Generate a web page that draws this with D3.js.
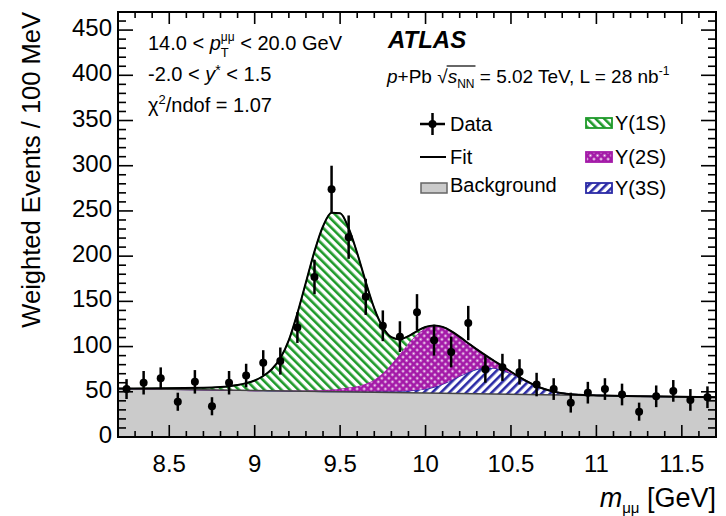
<!DOCTYPE html>
<html>
<head>
<meta charset="utf-8">
<script src="https://cdn.jsdelivr.net/npm/d3@7"></script>
<style>
  html, body { margin: 0; padding: 0; background: #fff; }
  svg text { font-family: "Liberation Sans", Arial, Helvetica, sans-serif; white-space: pre; fill: #000; }
</style>
</head>
<body>
<svg id="chart" width="726" height="516"></svg>
<script>
// Dimuon invariant mass, 0.1 GeV bins
const binMass = [8.25, 8.35, 8.45, 8.55, 8.65, 8.75, 8.85, 8.95, 9.05, 9.15,
                 9.25, 9.35, 9.45, 9.55, 9.65, 9.75, 9.85, 9.95, 10.05, 10.15,
                 10.25, 10.35, 10.45, 10.55, 10.65, 10.75, 10.85, 10.95, 11.05, 11.15,
                 11.25, 11.35, 11.45, 11.55, 11.65];
const binCounts = [53, 60, 65, 39, 61, 34, 60, 68, 82, 84,
                   121, 177, 274, 221, 155, 123, 111, 138, 107, 94,
                   126, 75, 77, 72, 58, 53, 38, 49, 53, 47,
                   28, 45, 51, 41, 44];
const binErrors = [11, 13, 12, 10, 13, 10, 13, 13, 14, 15,
                   17, 19, 26, 24, 20, 17, 17, 20, 17, 17,
                   19, 15, 15, 14, 13, 12, 11, 12, 12, 12,
                   10, 12, 12, 12, 12];

// Fit: linear background plus the three Upsilon components
const bgMass = [8.2, 11.7];
const bgLevel = [53.5, 44];
const fitMass = [8.75, 8.80, 8.85, 8.90, 8.95, 9.00, 9.05, 9.10, 9.15, 9.20,
                 9.25, 9.30, 9.35, 9.40, 9.45, 9.50, 9.55, 9.60, 9.65, 9.70,
                 9.75, 9.80, 9.85, 9.90, 9.95, 10.00, 10.05, 10.10, 10.15, 10.20,
                 10.25, 10.30, 10.35, 10.40, 10.45, 10.50, 10.55, 10.60, 10.65, 10.70,
                 10.75, 10.80, 10.85, 10.90, 10.95, 11.00, 11.05];
const ups1S = [2.6, 3.3, 4.4, 5.9, 8.1, 11.2, 16.0, 23.5, 35.6, 55.8,
               85.3, 119.5, 153.6, 181.0, 195.6, 194.0, 176.3, 147.1, 112.5, 78.9,
               50.8, 29.9, 16.2, 8.0, 3.7, 1.5, 0.6, 0.2, 0.1, 0,
               0, 0, 0, 0, 0, 0, 0, 0, 0, 0,
               0, 0, 0, 0, 0, 0, 0];
const ups2S = [0, 0, 0, 0, 0, 0, 0.3, 0.4, 0.5, 0.6,
               0.8, 1.0, 1.3, 1.8, 2.3, 3.2, 4.4, 6.1, 8.9, 13.2,
               20.3, 30.1, 41.2, 52.4, 61.6, 67.1, 67.6, 63.1, 54.4, 43.5,
               32.2, 22.1, 14.0, 8.2, 4.5, 2.2, 1.0, 0.5, 0.2, 0.1,
               0, 0, 0, 0, 0, 0, 0];
const ups3S = [0, 0, 0, 0, 0, 0, 0, 0, 0, 0,
               0, 0, 0, 0, 0, 0.3, 0.4, 0.45, 0.55, 0.7,
               0.9, 1.2, 1.6, 2.2, 3.1, 4.5, 6.7, 10.1, 14.4, 19.1,
               23.6, 27.0, 28.8, 28.6, 26.4, 22.7, 18.2, 13.5, 9.3, 6.0,
               3.6, 2.0, 1.0, 0.5, 0.2, 0.1, 0];

const yTickValues = [0, 50, 100, 150, 200, 250, 300, 350, 400, 450];
const xTickValues = [8.5, 9, 9.5, 10, 10.5, 11, 11.5];

const C1 = "#1e9a2a", C2 = "#a41aa8", C3 = "#2a2aa6", BG = "#cbcbcb";

const svg = d3.select("#chart");
const L = 118, R = 716, T = 12, B = 437;
const x = d3.scaleLinear().domain([8.2, 11.7]).range([L, R]);
const y = d3.scaleLinear().domain([0, 470]).range([B, T]);
const bg = d3.scaleLinear().domain(bgMass).range(bgLevel);

// hatch patterns
const defs = svg.append("defs");
function stripes(id, color, angle) {
  const p = defs.append("pattern").attr("id", id).attr("patternUnits", "userSpaceOnUse")
    .attr("width", 6).attr("height", 6).attr("patternTransform", `rotate(${angle})`);
  p.append("rect").attr("width", 6).attr("height", 6).attr("fill", "#fff");
  p.append("rect").attr("width", 2.6).attr("height", 6).attr("fill", color);
}
stripes("h1S", C1, -45);
stripes("h3S", C3, 45);
const pm = defs.append("pattern").attr("id", "h2S").attr("patternUnits", "userSpaceOnUse")
  .attr("width", 5).attr("height", 5).attr("patternTransform", "rotate(45)");
pm.append("rect").attr("width", 5).attr("height", 5).attr("fill", C2);
pm.append("rect").attr("x", 1.5).attr("y", 1.5).attr("width", 2).attr("height", 2).attr("fill", "#fff");
defs.append("clipPath").attr("id", "plotClip").append("rect")
  .attr("x", L).attr("y", T).attr("width", R - L).attr("height", B - T);

// sampled fit, padded with the range edges
const fit = [{m: 8.2, a: 0, b: 0, c: 0}]
  .concat(fitMass.map((m, i) => ({m, a: ups1S[i], b: ups2S[i], c: ups3S[i]})))
  .concat([{m: 11.7, a: 0, b: 0, c: 0}]);

const plot = svg.append("g").attr("clip-path", "url(#plotClip)");
const curve = d3.curveMonotoneX;

// background
plot.append("path")
  .attr("d", d3.area().x(d => x(d)).y0(y(0)).y1(d => y(bg(d)))(bgMass))
  .attr("fill", BG);

function band(lo, hi, fill, stroke) {
  plot.append("path")
    .attr("d", d3.area().curve(curve).x(d => x(d.m)).y0(d => y(lo(d))).y1(d => y(hi(d)))(fit))
    .attr("fill", fill);
  plot.append("path")
    .attr("d", d3.line().curve(curve).x(d => x(d.m)).y(d => y(hi(d)))(fit))
    .attr("fill", "none").attr("stroke", stroke).attr("stroke-width", 1.3);
}
band(d => bg(d.m), d => bg(d.m) + d.c, "url(#h3S)", C3);
band(d => bg(d.m) + d.c, d => bg(d.m) + d.c + d.b, "url(#h2S)", C2);
band(d => bg(d.m) + d.c + d.b, d => bg(d.m) + d.c + d.b + d.a, "url(#h1S)", C1);

// background line and total fit
plot.append("path")
  .attr("d", d3.line().x(d => x(d)).y(d => y(bg(d)))(bgMass))
  .attr("fill", "none").attr("stroke", "#444").attr("stroke-width", 1.5);
plot.append("path")
  .attr("d", d3.line().curve(curve).x(d => x(d.m)).y(d => y(bg(d.m) + d.a + d.b + d.c))(fit))
  .attr("fill", "none").attr("stroke", "#000").attr("stroke-width", 2);

// data points
const pts = plot.append("g");
binMass.forEach((m, i) => {
  pts.append("line").attr("x1", x(m)).attr("x2", x(m))
    .attr("y1", y(binCounts[i] - binErrors[i])).attr("y2", y(binCounts[i] + binErrors[i]))
    .attr("stroke", "#000").attr("stroke-width", 2.5);
  pts.append("circle").attr("cx", x(m)).attr("cy", y(binCounts[i])).attr("r", 4).attr("fill", "#000");
});

// frame with inward ticks on all four sides
const ax = svg.append("g").attr("stroke", "#000");
const yMinor = d3.range(0, 471, 10);
yMinor.forEach(v => {
  const major = v % 50 === 0;
  const len = major ? 15 : 8;
  ax.append("line").attr("x1", L).attr("x2", L + len).attr("y1", y(v)).attr("y2", y(v)).attr("stroke-width", 1.6);
  ax.append("line").attr("x1", R).attr("x2", R - len).attr("y1", y(v)).attr("y2", y(v)).attr("stroke-width", 1.6);
});
const xMinor = d3.range(82, 118, 1).map(v => v / 10);
xMinor.forEach(v => {
  const major = Math.round(v * 10) % 5 === 0;
  const len = major ? 12 : 6;
  ax.append("line").attr("x1", x(v)).attr("x2", x(v)).attr("y1", B).attr("y2", B - len).attr("stroke-width", 1.6);
  ax.append("line").attr("x1", x(v)).attr("x2", x(v)).attr("y1", T).attr("y2", T + len).attr("stroke-width", 1.6);
});
svg.append("rect").attr("x", L).attr("y", T).attr("width", R - L).attr("height", B - T)
  .attr("fill", "none").attr("stroke", "#000").attr("stroke-width", 2);

// tick labels
const yl = svg.append("g").attr("font-size", 24).attr("text-anchor", "end");
yTickValues.forEach(v => yl.append("text").attr("x", 112).attr("y", y(v) + 6).text(v));
const xl = svg.append("g").attr("font-size", 24).attr("text-anchor", "middle");
xTickValues.forEach(v => xl.append("text").attr("x", x(v)).attr("y", 472).text(v));

// axis titles
svg.append("text").attr("transform", "translate(40,12) rotate(-90)")
  .attr("text-anchor", "end").attr("font-size", 25.5).text("Weighted Events / 100 MeV");

// rich text: sequential pieces, optionally stacked on the previous one
function rich(parent, x0, y0, parts, size) {
  let cx = x0, startPrev = x0;
  parts.forEach(p => {
    const px = p.stack ? startPrev : cx;
    const t = parent.append("text").attr("x", px).attr("y", y0 + (p.dy || 0))
      .attr("font-size", p.size || size)
      .attr("font-style", p.it ? "italic" : null)
      .attr("font-weight", p.bold ? "bold" : null)
      .text(p.t);
    const w = t.node().getComputedTextLength();
    if (p.stack) cx = Math.max(cx, px + w);
    else { startPrev = px; cx = px + w; }
    p.x0 = px; p.x1 = px + w;
  });
  return cx;
}

const ann = svg.append("g");
const xt = [{t: "m", it: true}, {t: "μμ", size: 15, dy: 6}, {t: " [GeV]"}];
// right-aligned axis title
const tmp = svg.append("g").attr("opacity", 0);
const wX = rich(tmp, 0, 0, xt.map(d => Object.assign({}, d)), 27);
tmp.remove();
rich(ann, R - wX, 507, xt, 27);

rich(ann, 148, 50, [
  {t: "14.0 < "}, {t: "p", it: true},
  {t: "μμ", size: 12, dy: -9}, {t: "T", size: 13, dy: 7, stack: true},
  {t: " < 20.0 GeV"}], 20);
rich(ann, 148, 81, [
  {t: "-2.0 < "}, {t: "y", it: true}, {t: "*", size: 14, dy: -6}, {t: " < 1.5"}], 20);
rich(ann, 148, 112, [
  {t: "χ"}, {t: "2", size: 13, dy: -8}, {t: "/ndof = 1.07"}], 20);

rich(ann, 388, 48, [{t: "ATLAS", it: true, bold: true}], 24);
const sq = [{t: "p", it: true}, {t: "+Pb "}, {t: "√"}, {t: "s", it: true},
            {t: "NN", size: 12, dy: 5}, {t: " = 5.02 TeV, L = 28 nb"}, {t: "-1", size: 12, dy: -8}];
rich(ann, 387, 83, sq, 19);
ann.append("line").attr("x1", sq[2].x1 - 1).attr("x2", sq[4].x1 + 1).attr("y1", 66).attr("y2", 66)
  .attr("stroke", "#000").attr("stroke-width", 1.2);

// legend
const lg = svg.append("g");
lg.append("line").attr("x1", 420).attr("x2", 445).attr("y1", 124).attr("y2", 124).attr("stroke", "#000").attr("stroke-width", 2.5);
lg.append("line").attr("x1", 432.5).attr("x2", 432.5).attr("y1", 113).attr("y2", 135).attr("stroke", "#000").attr("stroke-width", 2.5);
lg.append("circle").attr("cx", 432.5).attr("cy", 124).attr("r", 4).attr("fill", "#000");
lg.append("line").attr("x1", 420).attr("x2", 446).attr("y1", 157).attr("y2", 157).attr("stroke", "#000").attr("stroke-width", 2);
lg.append("rect").attr("x", 421).attr("y", 183).attr("width", 26).attr("height", 10)
  .attr("fill", BG).attr("stroke", "#666").attr("stroke-width", 1.5);
const legText = ["Data", "Fit", "Background"];
const legY = [131, 164, 192];
legText.forEach((t, i) => lg.append("text").attr("x", 450).attr("y", legY[i]).attr("font-size", 20).text(t));
const stateNames = ["Υ(1S)", "Υ(2S)", "Υ(3S)"];
const stateFill = ["url(#h1S)", "url(#h2S)", "url(#h3S)"];
const stateCol = [C1, C2, C3];
const boxY = [118, 152, 183];
stateNames.forEach((t, i) => {
  lg.append("rect").attr("x", 586).attr("y", boxY[i]).attr("width", 26).attr("height", 10)
    .attr("fill", stateFill[i]).attr("stroke", stateCol[i]).attr("stroke-width", 1.8);
  lg.append("text").attr("x", 615).attr("y", boxY[i] + 12).attr("font-size", 20).text(t);
});
</script>
</body>
</html>
